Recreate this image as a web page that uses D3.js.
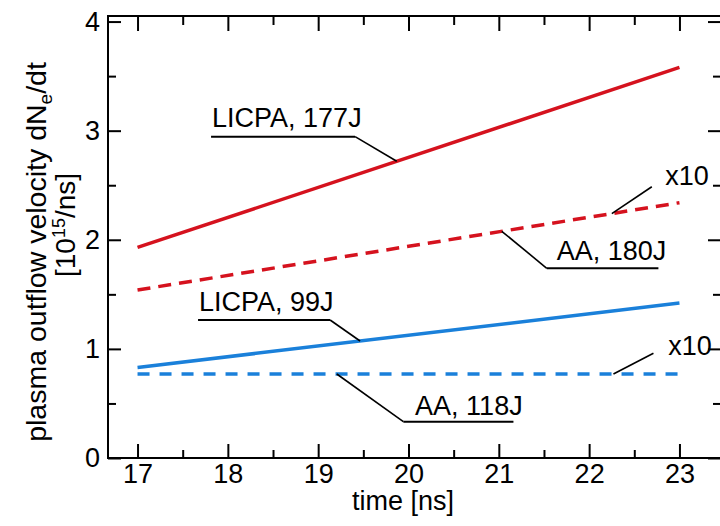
<!DOCTYPE html>
<html>
<head>
<meta charset="utf-8">
<script src="https://cdn.jsdelivr.net/npm/d3@7"></script>
<style>
  html, body { margin: 0; padding: 0; background: #fff; }
  svg { display: block; font-family: "Liberation Sans", Arial, sans-serif; }
</style>
</head>
<body>
<svg id="chart" width="720" height="526"></svg>
<script>
// ---- data ----
const timeRange = [17, 23];
const licpa177 = [1.93, 3.58];
const aa180 = [1.54, 2.34];
const licpa99 = [0.83, 1.42];
const aa118 = [0.77, 0.77];
const xTicks = [17, 18, 19, 20, 21, 22, 23];
const xMinorTicks = [17.5, 18.5, 19.5, 20.5, 21.5, 22.5];
const yTicks = [0, 1, 2, 3, 4];
const yMinorTicks = [0.5, 1.5, 2.5, 3.5];
const seriesNames = ["LICPA, 177J", "AA, 180J", "LICPA, 99J", "AA, 118J"];

const RED = "#d5121e", BLUE = "#1a80da";
const series = [
  { name: seriesNames[0], values: licpa177, color: RED, dash: null },
  { name: seriesNames[1], values: aa180, color: RED, dash: "13,8" },
  { name: seriesNames[2], values: licpa99, color: BLUE, dash: null },
  { name: seriesNames[3], values: aa118, color: BLUE, dash: "12,10" }
];

// annotations in data coordinates: text pos, underline span, leader target time
const annotations = [
  { text: "LICPA, 177J", s: 0, tx: 17.825, ty: 3.037, ux: [17.814, 19.409], uy: 2.945, at: 19.87, from: "right" },
  { text: "AA, 180J", s: 1, tx: 21.642, ty: 1.815, ux: [21.531, 22.767], uy: 1.739, at: 21.033, from: "left" },
  { text: "LICPA, 99J", s: 2, tx: 17.681, ty: 1.347, ux: [17.670, 19.132], uy: 1.265, at: 19.464, from: "right" },
  { text: "AA, 118J", s: 3, tx: 20.073, ty: 0.394, ux: [19.943, 21.162], uy: 0.333, at: 19.206, from: "left" }
];
const x10Notes = [
  { s: 1, tx: 22.842, ty: 2.502, lx: 22.694, ly: 2.486, at: 22.251 },
  { s: 3, tx: 22.875, ty: 0.944, lx: 22.712, ly: 0.960, at: 22.269 }
];

// ---- scales ----
const svg = d3.select("#chart");
const L = 108, R = 721, T = 16, B = 458;
const x = d3.scaleLinear().domain([16.673, 23.46]).range([L, R]);
const y = d3.scaleLinear().domain([0, 4.051]).range([B, T]);
const FS = 27;

function valAt(s, t) {
  const v = series[s].values;
  return v[0] + (v[1] - v[0]) * (t - timeRange[0]) / (timeRange[1] - timeRange[0]);
}

// ---- axes ----
function styleAxis(g) {
  g.select(".domain").remove();
  g.selectAll(".tick line").attr("stroke", "#000").attr("stroke-width", 2);
  g.selectAll(".tick text").attr("fill", "#000").attr("font-size", FS)
    .attr("font-family", "'Liberation Sans', Arial, sans-serif");
}
svg.append("g").attr("transform", `translate(0,${B})`)
  .call(d3.axisBottom(x).tickValues(xTicks).tickSize(-14).tickPadding(6).tickFormat(d3.format("d")))
  .call(styleAxis);
svg.append("g").attr("transform", `translate(0,${B})`)
  .call(d3.axisBottom(x).tickValues(xMinorTicks).tickSize(-8).tickFormat(""))
  .call(styleAxis);
svg.append("g").attr("transform", `translate(0,${T})`)
  .call(d3.axisTop(x).tickValues(xTicks).tickSize(-15).tickFormat(""))
  .call(styleAxis);
svg.append("g").attr("transform", `translate(0,${T})`)
  .call(d3.axisTop(x).tickValues(xMinorTicks).tickSize(-9).tickFormat(""))
  .call(styleAxis);
svg.append("g").attr("transform", `translate(${L},0)`)
  .call(d3.axisLeft(y).tickValues(yTicks).tickSize(-13).tickPadding(8).tickFormat(d3.format("d")))
  .call(styleAxis);
svg.append("g").attr("transform", `translate(${L},0)`)
  .call(d3.axisLeft(y).tickValues(yMinorTicks).tickSize(-8).tickFormat(""))
  .call(styleAxis);
svg.append("g").attr("transform", `translate(${R},0)`)
  .call(d3.axisRight(y).tickValues(yTicks).tickSize(-13).tickFormat(""))
  .call(styleAxis);
svg.append("g").attr("transform", `translate(${R},0)`)
  .call(d3.axisRight(y).tickValues(yMinorTicks).tickSize(-8).tickFormat(""))
  .call(styleAxis);

// frame
svg.append("rect").attr("x", L).attr("y", T).attr("width", R - L).attr("height", B - T)
  .attr("fill", "none").attr("stroke", "#000").attr("stroke-width", 2);

// ---- lines ----
const line = d3.line().x(d => x(d[0])).y(d => y(d[1]));
svg.append("g").selectAll("path").data(series).join("path")
  .attr("d", d => line(timeRange.map((t, i) => [t, d.values[i]])))
  .attr("fill", "none")
  .attr("stroke", d => d.color)
  .attr("stroke-width", 3.5)
  .attr("stroke-dasharray", d => d.dash);

// ---- annotations ----
const ann = svg.append("g");
annotations.forEach(a => {
  ann.append("text").attr("x", x(a.tx)).attr("y", y(a.ty))
    .attr("font-size", FS).attr("fill", "#000").text(a.text);
  ann.append("line").attr("x1", x(a.ux[0])).attr("x2", x(a.ux[1]))
    .attr("y1", y(a.uy)).attr("y2", y(a.uy)).attr("stroke", "#000").attr("stroke-width", 2);
  const sx = a.from === "right" ? a.ux[1] : a.ux[0];
  ann.append("line").attr("x1", x(sx)).attr("y1", y(a.uy))
    .attr("x2", x(a.at)).attr("y2", y(valAt(a.s, a.at)))
    .attr("stroke", "#000").attr("stroke-width", 1.6);
});
x10Notes.forEach(n => {
  ann.append("text").attr("x", x(n.tx)).attr("y", y(n.ty))
    .attr("font-size", FS).attr("fill", "#000").text("x10");
  ann.append("line").attr("x1", x(n.lx)).attr("y1", y(n.ly))
    .attr("x2", x(n.at)).attr("y2", y(valAt(n.s, n.at)))
    .attr("stroke", "#000").attr("stroke-width", 1.6);
});

// ---- axis titles ----
svg.append("text").attr("x", 403).attr("y", 510).attr("text-anchor", "middle")
  .attr("font-size", FS).text("time [ns]");

const yt1 = svg.append("text").attr("transform", "translate(46,252) rotate(-90)")
  .attr("text-anchor", "middle").attr("font-size", 28.5);
yt1.append("tspan").text("plasma outflow velocity dN");
yt1.append("tspan").attr("font-size", 19).attr("dy", 6).text("e");
yt1.append("tspan").attr("dy", -6).text("/dt");

const yt2 = svg.append("text").attr("transform", "translate(75,225) rotate(-90)")
  .attr("text-anchor", "middle").attr("font-size", 28);
yt2.append("tspan").text("[10");
yt2.append("tspan").attr("font-size", 18).attr("dy", -10).text("15");
yt2.append("tspan").attr("dy", 10).text("/ns]");
</script>
</body>
</html>
